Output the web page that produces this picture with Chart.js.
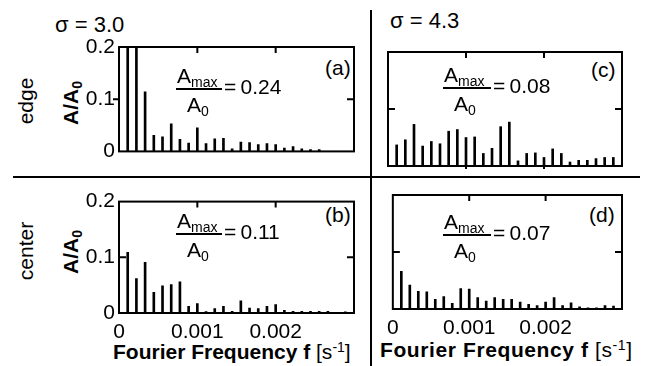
<!DOCTYPE html>
<html>
<head>
<meta charset="utf-8">
<script src="https://cdn.jsdelivr.net/npm/chart.js@4.4.0/dist/chart.umd.min.js"></script>
<style>
  html, body { margin: 0; padding: 0; background: #fff; }
  body { width: 645px; height: 366px; position: relative; overflow: hidden;
         font-family: 'Liberation Sans', Arial, sans-serif; color: #000; }
  canvas { position: absolute; }
  .t { position: absolute; white-space: nowrap; font-size: 21px; line-height: 20px; }
  .rot { transform: translate(-50%, -50%) rotate(-90deg); }
  .b { font-weight: bold; }
  sub { font-size: 14px; vertical-align: -4px; line-height: 0; }
  sup { font-size: 14px; vertical-align: 7px; line-height: 0; }
  .rule { position: absolute; background: #000; }
  .fbar { position: absolute; height: 1.5px; background: #000; }
</style>
</head>
<body>

<!-- panel dividers -->
<div class="rule" style="left:13px; top:176px; width:627px; height:2px;"></div>
<div class="rule" style="left:370px; top:10px; width:2px; height:356px;"></div>

<div class="t" style="left:55px; top:15px; font-size:22px;">&sigma; = 3.0</div>
<div class="t" style="left:390px; top:11px; font-size:22px;">&sigma; = 4.3</div>

<div class="t rot" style="left:26px; top:101px;">edge</div>
<div class="t rot" style="left:26px; top:251px;">center</div>
<div class="t rot b" style="left:71px; top:103px;">A/A<sub>0</sub></div>
<div class="t rot b" style="left:71px; top:252px;">A/A<sub>0</sub></div>

<div class="t" style="left:325px; top:58px;">(a)</div>
<div class="t" style="left:325px; top:205px;">(b)</div>
<div class="t" style="left:591px; top:60px;">(c)</div>
<div class="t" style="left:589px; top:205px;">(d)</div>

<div class="t" style="left:113px; top:342px;"><span class="b">Fourier Frequency f</span> [s<sup>-1</sup>]</div>
<div class="t" style="left:380px; top:340px; letter-spacing:0.6px;"><span class="b">Fourier Frequency f</span> [s<sup>-1</sup>]</div>

<canvas id="pa" width="320" height="138" style="left:40px; top:30px;"></canvas>
<canvas id="pb" width="320" height="168" style="left:40px; top:185px;"></canvas>
<canvas id="pc" width="248" height="132" style="left:380px; top:40px;"></canvas>
<canvas id="pd" width="248" height="166" style="left:380px; top:183px;"></canvas>

<script>
// Fourier spectra of A/A0, harmonics of a 9000 s record
const recordLength = 9000; // s
const harmonics = [1, 2, 3, 4, 5, 6, 7, 8, 9, 10, 11, 12, 13, 14, 15, 16, 17, 18, 19, 20, 21, 22, 23, 24, 25, 26];

const xTickValues = [0, 0.001, 0.002];
const xTickLabels = ['0', '0.001', '0.002'];
const yTickValues = [0, 0.1, 0.2];
const yTickLabels = ['0', '0.1', '0.2'];

// sigma = 3.0
const edgeSigma30 = [0.22, 0.24, 0.114, 0.031, 0.028, 0.053, 0.023, 0.016, 0.045, 0.015, 0.024, 0.025, 0.005,
                     0.018, 0.017, 0.013, 0.015, 0.013, 0.0064, 0.009, 0.005, 0.0035, 0.0035, 0, 0, 0];
const centerSigma30 = [0.109, 0.062, 0.091, 0.037, 0.049, 0.051, 0.056, 0.012, 0.017, 0.0025, 0.008, 0.012, 0.003,
                       0.022, 0.009, 0.008, 0.012, 0.015, 0.005, 0.003, 0.003, 0.003, 0.003, 0.003, 0, 0.002];
// sigma = 4.3
const edgeSigma43 = [0.037, 0.046, 0.073, 0.035, 0.043, 0.039, 0.061, 0.064, 0.050, 0.051, 0.022, 0.031, 0.069,
                     0.077, 0.009, 0.022, 0.023, 0.015, 0.030, 0.022, 0.007, 0.010, 0.010, 0.013, 0.015, 0.015];
const centerSigma43 = [0.066, 0.042, 0.031, 0.030, 0.017, 0.022, 0.010, 0.036, 0.035, 0.020, 0.014, 0.020, 0.017,
                       0.017, 0.012, 0.008, 0.006, 0.012, 0.020, 0.006, 0.011, 0.004, 0.002, 0.002, 0.006, 0.005];

// Amax/A0 annotations
const amaxLabels = ['0.24', '0.11', '0.08', '0.07'];

Chart.defaults.font.family = "'Liberation Sans', Arial, sans-serif";
Chart.defaults.color = '#000';

// frame + tick marks
const boxPlugin = {
    id: 'box',
    afterDatasetsDraw(chart, args, opts) {
        const { ctx, chartArea: a, scales: { x, y } } = chart;
        ctx.save();
        ctx.strokeStyle = '#000';
        ctx.lineWidth = 2;
        ctx.strokeRect(a.left, a.top, a.right - a.left, a.bottom - a.top);
        ctx.beginPath();
        xTickValues.slice(1).forEach(v => {
            const px = x.getPixelForValue(v);
            ctx.moveTo(px, a.top);
            ctx.lineTo(px, a.top + 6);
            if (opts.bottomTicks) {
                ctx.moveTo(px, a.bottom);
                ctx.lineTo(px, a.bottom + 3);
            }
        });
        yTickValues.slice(1, -1).forEach(v => {
            const py = y.getPixelForValue(v);
            ctx.moveTo(a.left + opts.leftTick, py);
            ctx.lineTo(a.left, py);
            ctx.moveTo(a.right, py);
            ctx.lineTo(a.right - 7, py);
        });
        ctx.stroke();
        ctx.restore();
    }
};

function makePanel(id, values, cfg) {
    const ctx = document.getElementById(id).getContext('2d');
    return new Chart(ctx, {
        type: 'bar',
        data: {
            datasets: [{
                data: harmonics.map((k, i) => ({ x: k / recordLength, y: values[i] })),
                backgroundColor: '#000',
                borderWidth: 0,
                barThickness: 2,
            }]
        },
        options: {
            responsive: false,
            animation: false,
            devicePixelRatio: 1,
            events: [],
            layout: { padding: cfg.padding },
            plugins: {
                legend: { display: false },
                tooltip: { enabled: false },
                box: { leftTick: cfg.leftTick, bottomTicks: cfg.bottomTicks },
            },
            scales: {
                x: {
                    type: 'linear',
                    display: cfg.showX,
                    min: 0,
                    max: 0.003,
                    offset: false,
                    grid: { display: false, offset: false, drawTicks: false },
                    border: { display: false },
                    afterBuildTicks: s => { s.ticks = xTickValues.map(v => ({ value: v })); },
                    afterFit: s => { s.height = cfg.showX ? 40 : 0; },
                    ticks: {
                        autoSkip: false,
                        maxRotation: 0,
                        padding: 7,
                        font: { size: 21 },
                        callback: (v, i) => xTickLabels[i],
                    },
                },
                y: {
                    display: cfg.showY,
                    min: 0,
                    max: 0.2,
                    grid: { display: false, drawTicks: false },
                    border: { display: false },
                    afterBuildTicks: s => { s.ticks = yTickValues.map(v => ({ value: v })); },
                    afterFit: s => { s.width = cfg.showY ? 79 : 0; },
                    ticks: {
                        padding: 4,
                        font: { size: 21 },
                        callback: (v, i) => yTickLabels[i],
                    },
                },
            },
        },
        plugins: [boxPlugin],
    });
}

makePanel('pa', edgeSigma30,   { padding: { top: 17, right: 6, bottom: 6, left: 0 }, showX: false, showY: true,  leftTick: -6, bottomTicks: false });
makePanel('pb', centerSigma30, { padding: { top: 14, right: 6, bottom: 0, left: 0 }, showX: true,  showY: true,  leftTick: 7,  bottomTicks: false });
makePanel('pc', edgeSigma43,   { padding: { top: 12, right: 6, bottom: 6, left: 8 }, showX: false, showY: false, leftTick: 7,  bottomTicks: true });
makePanel('pd', centerSigma43, { padding: { top: 12, right: 6, bottom: 0, left: 7 }, showX: true,  showY: false, leftTick: 7,  bottomTicks: false });

// Amax/A0 fraction annotations: [bar left, bar y, bar width]
const fractionSpots = [[176, 88, 46], [176, 233, 46], [443, 87, 48], [443, 234, 48]];
fractionSpots.forEach(([bx, by, w], i) => {
    const add = (html, cls, style) => {
        const d = document.createElement('div');
        d.className = cls;
        d.style.cssText = style;
        d.innerHTML = html;
        document.body.appendChild(d);
    };
    add('A<sub>max</sub>', 't', `left:${bx + 1}px; top:${by - 22}px;`);
    add('', 'fbar', `left:${bx}px; top:${by}px; width:${w}px;`);
    add('A<sub>0</sub>', 't', `left:${bx + 11}px; top:${by + 7}px;`);
    add('=&thinsp;' + amaxLabels[i], 't', `left:${bx + w + 2}px; top:${by - 11}px;`);
});
</script>
</body>
</html>
